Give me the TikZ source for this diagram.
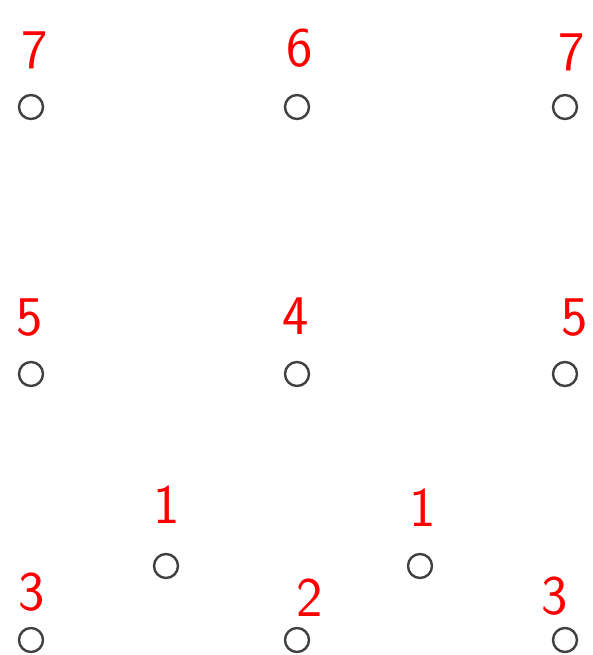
\documentclass[tikz,border=0pt]{standalone}
\usepackage{tikz}
\usetikzlibrary{positioning}
\tikzset{
  spot/.style={draw=black!75, circle, line width=2.4pt, inner sep=0pt, minimum size=24pt},
  num/.style={text=red, font=\sffamily\fontsize{56}{56}\selectfont, inner sep=0pt},
}

\begin{document}
\begin{tikzpicture}[x=1pt, y=-1pt]
    \useasboundingbox (0,0) rectangle (593,655);
    % points
    \node[spot] (A7)  at (31,107)  {};
    \node[spot] (A6)  at (297,107) {};
    \node[spot] (B7)  at (565,107) {};
    \node[spot] (A5)  at (31,374)  {};
    \node[spot] (A4)  at (297,374) {};
    \node[spot] (B5)  at (565,374) {};
    \node[spot] (A1)  at (166,566) {};
    \node[spot] (B1)  at (420,566) {};
    \node[spot] (A3)  at (31,640)  {};
    \node[spot] (A2)  at (297,640) {};
    \node[spot] (B3)  at (565,640) {};
    % numbers
    \node[num] (lA7) at (35,50)   {7};
    \node[num] (lA6) at (300,48)  {6};
    \node[num] (lB7) at (572,52)  {7};
    \node[num] (lA5) at (30,318)  {5};
    \node[num] (lA4) at (296,316) {4};
    \node[num] (lB5) at (575,318) {5};
    \node[num] (lA1) at (167,505) {1};
    \node[num] (lB1) at (423,508) {1};
    \node[num] (lA3) at (32,592)  {3};
    \node[num] (lA2) at (310,598) {2};
    \node[num] (lB3) at (555,596) {3};
\end{tikzpicture}
\end{document}
